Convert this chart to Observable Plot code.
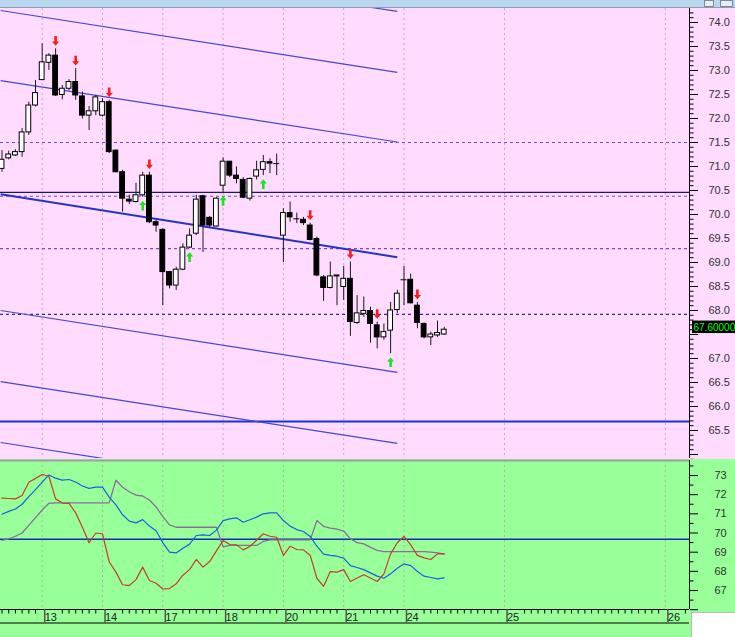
<!DOCTYPE html>
<html><head><meta charset="utf-8">
<script src="https://cdn.jsdelivr.net/npm/d3@7"></script>
<script src="https://cdn.jsdelivr.net/npm/@observablehq/plot@0.6"></script>
<style>
html,body{margin:0;padding:0;width:735px;height:637px;overflow:hidden;background:#99ff99;position:relative;}
#strip{height:7px;background:#b9d6ef;border-bottom:1px solid #8f9fb0;position:relative;}
.ico{position:absolute;top:0;height:5px;border:1px solid #7a8a9a;background:#e8eef4;}
#upper svg,#lower svg{display:block;}
#corner{position:absolute;left:691px;top:612px;width:44px;height:25px;background:#fff;border-top:1px solid #b8b8b8;border-left:1px solid #b8b8b8;box-sizing:border-box;}
</style></head><body>
<div id="strip"><div class="ico" style="left:704px;width:8px"></div><div class="ico" style="left:720px;width:11px"></div></div>
<div id="upper"></div>
<div id="lower"></div>
<div id="corner"></div>
<script>
// ---------- data ----------
const FIRST_BAR = -6; // bar index of first candle (bar 0 = first bar of day "13")
const opens  = [70.95,71.17,71.23,71.30,71.71,72.27,72.80,73.16,73.31,72.49,72.62,72.76,72.46,72.06,72.15,72.06,72.34,71.33,70.88,70.31,70.26,70.40,70.81,69.84,69.68,68.80,68.52,68.85,69.31,69.60,70.38,69.93,69.75,70.60,71.10,70.81,70.72,70.33,70.79,70.93,71.09,71.06,69.56,70.03,69.91,69.89,69.77,69.49,68.69,68.47,68.73,68.49,68.66,67.74,67.93,67.99,67.69,67.44,67.58,68.01,68.64,68.64,68.10,67.72,67.44,67.48,67.50];
const highs  = [71.33,71.32,71.35,71.79,72.34,72.79,73.56,73.35,73.45,72.69,72.81,73.04,72.55,72.25,72.48,72.41,72.38,71.35,70.92,70.40,70.65,70.88,70.88,69.88,69.70,68.81,68.90,69.39,69.70,70.40,70.40,69.96,70.35,71.18,71.10,70.99,70.77,70.76,71.11,71.23,71.16,71.26,70.12,70.26,70.03,69.94,69.82,69.53,68.73,69.01,68.73,68.92,69.01,68.31,68.28,68.07,67.76,67.72,68.17,68.42,68.92,68.76,68.17,67.74,67.55,67.78,67.65];
const lows   = [70.88,71.14,71.21,71.19,71.65,72.24,72.79,73.00,72.46,72.39,72.58,72.38,71.99,71.75,72.06,72.03,71.27,70.87,70.05,70.21,70.24,70.36,69.81,69.63,68.10,68.45,68.42,68.83,69.29,69.56,69.21,69.73,69.74,70.46,70.77,70.64,70.33,70.28,70.72,70.81,70.85,70.81,69.00,69.84,69.81,69.77,69.45,68.70,68.19,68.45,68.10,68.21,67.46,67.71,67.86,67.32,67.20,67.38,67.10,67.94,68.10,68.14,67.62,67.41,67.27,67.44,67.48];
const closes = [71.14,71.25,71.30,71.71,72.27,72.53,73.17,73.31,72.48,72.62,72.76,72.48,72.06,72.15,72.44,72.34,71.30,70.88,70.33,70.27,70.40,70.81,69.84,69.77,68.80,68.52,68.85,69.31,69.56,70.31,69.77,69.77,70.33,71.10,70.81,70.74,70.35,70.74,70.92,71.09,71.06,71.06,70.03,69.94,69.91,69.82,69.47,68.73,68.47,68.71,68.71,68.66,67.76,67.94,67.99,67.72,67.44,67.55,68.00,68.35,68.64,68.15,67.74,67.44,67.50,67.53,67.60];

const sellBars = [2, 5, 10, 16, 40, 46, 50, 56];   // red down arrows
const buyBars  = [15, 22, 27, 33, 52];             // green up arrows

// trend channel: price at left edge bar and at end bar
const channelStartBar = -6.2, channelEndBar = 53;
const channelStart = [75.52, 74.25, 72.79, 70.42, 68.00, 66.52, 65.25];
const channelEnd   = [74.23, 72.96, 71.51, 69.11, 66.71, 65.23, 63.96];
const channelMain  = 3; // index of the thick middle line

const dottedLevels = [71.50, 70.38, 69.29, 67.92];
const solidLevelDark = 70.46;
const solidLevelBlue = 65.69;

// lower pane indicator series (one value per bar from FIRST_BAR)
const redVals  = [71.82,71.80,71.78,71.96,72.65,72.85,73.05,72.96,71.78,71.56,71.55,71.05,70.30,69.49,70.00,69.96,68.50,67.96,67.30,67.26,67.57,68.22,67.52,67.38,67.08,67.10,67.35,67.80,68.09,68.62,68.22,68.51,69.07,69.61,69.40,69.38,69.12,69.30,69.62,69.96,69.83,69.78,68.83,69.31,69.14,69.12,68.83,67.64,67.22,67.99,67.96,68.09,67.47,67.65,67.82,67.65,67.47,67.87,68.91,69.49,69.82,69.38,68.83,68.70,68.62,68.91,68.91];
const blueVals = [70.98,71.13,71.25,71.50,71.90,72.26,72.65,73.03,72.86,72.76,72.79,72.66,72.45,72.33,72.39,72.39,71.87,71.47,70.95,70.62,70.53,70.70,70.36,70.12,69.50,69.00,68.96,69.21,69.42,69.87,69.90,69.87,70.15,70.65,70.74,70.79,70.56,70.69,70.83,71.00,71.05,71.05,70.65,70.36,70.18,70.08,69.82,69.31,68.90,68.83,68.79,68.69,68.30,68.20,68.09,67.92,67.75,67.64,67.87,68.16,68.39,68.30,67.99,67.75,67.68,67.61,67.66];
const grayVals = [69.62,69.70,69.83,70.00,70.40,70.80,71.20,71.55,71.57,71.57,71.57,71.57,71.57,71.57,71.57,71.57,71.57,72.75,72.39,72.15,71.98,71.93,71.72,71.36,70.85,70.42,70.30,70.30,70.30,70.30,70.30,70.30,70.30,69.28,69.35,69.35,69.35,69.35,69.35,69.56,69.64,69.64,69.64,69.64,69.64,69.64,69.64,70.65,70.35,70.25,70.20,70.10,69.70,69.50,69.43,69.25,69.09,69.03,69.03,69.03,69.03,69.03,69.03,69.03,69.00,68.96,68.91];
const lowerLevel = 69.67;

// x axis (dates)
const dateLabels = ["13", "14", "17", "18", "20", "21", "24", "25", "26"];
const dateBars   = [0, 9, 18, 27, 36, 45, 54, 69, 93];

// y axis ticks
const upperMajorTicks = d3.range(65, 74.01, 0.5).map(v => +v.toFixed(1));
const upperMinorTicks = d3.range(64.9, 74.3, 0.1).map(v => +v.toFixed(1)).filter(v => Math.abs(v * 2 - Math.round(v * 2)) > 0.01);
const lowerMajorTicks = [66, 67, 68, 69, 70, 71, 72, 73];
const lowerMinorTicks = [66.5, 67.5, 68.5, 69.5, 70.5, 71.5, 72.5, 73.5];

// ---------- layout ----------
const W = 735, MR = 46;
const X_DOMAIN = [-6.224, 96.612];
const UPPER_Y = [64.9167, 74.2917];
const LOWER_Y = [66.010, 73.782];
const FONT = "'Liberation Sans', Arial, sans-serif";

const candles = opens.map((o, k) => ({i: FIRST_BAR + k, o, h: highs[k], l: lows[k], c: closes[k]}));
const byBar = new Map(candles.map(d => [d.i, d]));
const channel = channelStart.map((s, k) => ({k, s, e: channelEnd[k]}));
const lastClose = closes[closes.length - 1];

const arrowDown = {draw(ctx) { const w = 1.3, hw = 3.6, h = 4.8, hl = 4.2;
  ctx.moveTo(0, h); ctx.lineTo(hw, h - hl); ctx.lineTo(w, h - hl); ctx.lineTo(w, -h);
  ctx.lineTo(-w, -h); ctx.lineTo(-w, h - hl); ctx.lineTo(-hw, h - hl); ctx.closePath(); }};
const arrowUp = {draw(ctx) { const w = 1.3, hw = 3.6, h = 4.8, hl = 4.2;
  ctx.moveTo(0, -h); ctx.lineTo(hw, -h + hl); ctx.lineTo(w, -h + hl); ctx.lineTo(w, h);
  ctx.lineTo(-w, h); ctx.lineTo(-w, -h + hl); ctx.lineTo(-hw, -h + hl); ctx.closePath(); }};

const upper = Plot.plot({
  width: W, height: 451,
  marginLeft: 0, marginRight: MR, marginTop: 0, marginBottom: 1,
  style: {background: "#ffdcff", fontFamily: FONT, fontSize: "11px", color: "#000"},
  x: {domain: X_DOMAIN, axis: null},
  y: {domain: UPPER_Y},
  marks: [
    Plot.ruleX(dateBars, {stroke: "#c4a8c4", strokeDasharray: "2,3"}),
    Plot.ruleY(dottedLevels, {stroke: (d, k) => k === 3 ? "#2c2ca0" : "#6a4ce2", strokeWidth: 1.2, strokeDasharray: "3,3"}),
    Plot.ruleY([solidLevelDark], {stroke: "#16186e", strokeWidth: 1.3}),
    Plot.ruleY([solidLevelBlue], {stroke: "#1530e0", strokeWidth: 2}),
    Plot.link(channel, {x1: () => channelStartBar, x2: () => channelEndBar, y1: "s", y2: "e",
      stroke: d => d.k === channelMain ? "#2434c4" : "#4646d2",
      strokeWidth: d => d.k === channelMain ? 2 : 1.2, clip: true}),
    Plot.ruleX(candles, {x: "i", y1: "l", y2: "h", stroke: "#1a1a1a", strokeWidth: 1}),
    Plot.rect(candles, {x1: d => d.i - 0.36, x2: d => d.i + 0.36,
      y1: d => Math.min(d.o, d.c), y2: d => Math.max(d.o, d.c),
      fill: d => d.c >= d.o ? "#ffffff" : "#000000", stroke: "#000", strokeWidth: 1}),
    Plot.ruleY(candles.filter(d => Math.abs(d.o - d.c) < 0.015), {y: "c", x1: d => d.i - 0.45, x2: d => d.i + 0.45, stroke: "#000"}),
    Plot.dot(sellBars, {x: d => d, y: d => byBar.get(d).h, dy: -8, symbol: arrowDown, fill: "#ff1a1a", stroke: "none", r: 4}),
    Plot.dot(buyBars, {x: d => d, y: d => byBar.get(d).l, dy: 8.5, symbol: arrowUp, fill: "#19e619", stroke: "none", r: 4}),
    Plot.ruleX([X_DOMAIN[1]], {stroke: "#000"}),
    Plot.axisY(upperMinorTicks, {anchor: "right", tickSize: 3.5, fill: "none", stroke: "#000", label: null}),
    Plot.axisY(upperMajorTicks.filter(v => Math.abs(v - lastClose) > 0.2), {anchor: "right", tickSize: 8, tickPadding: 11, stroke: "#000", fill: "#333",
      tickFormat: d => d < 65.2 ? "" : d.toFixed(1), label: null}),
    Plot.axisY(upperMajorTicks.filter(v => Math.abs(v - lastClose) <= 0.2), {anchor: "right", tickSize: 8, fill: "none", stroke: "#000", label: null}),
    Plot.rect([lastClose], {y1: d => d - 0.08, y2: d => d + 0.18, insetLeft: 692, insetRight: -MR, fill: "#000"}),
    Plot.text([lastClose], {y: d => d, text: d => d.toFixed(5), frameAnchor: "right", textAnchor: "start", dx: 4, dy: -2,
      fill: "#00ff00", fontSize: 10})
  ]
});
document.getElementById("upper").append(upper);

const bandBottom = LOWER_Y[0] - 13.5 / 19.17;
const minorX = d3.range(-6, 97).filter(b => !dateBars.some(t => b === t || b === t + 1 || b === t + 2));

const lower = Plot.plot({
  width: W, height: 178,
  marginLeft: 0, marginRight: MR, marginTop: 1, marginBottom: 28,
  style: {background: "#99ff99", fontFamily: FONT, fontSize: "11px", color: "#000"},
  x: {domain: X_DOMAIN},
  y: {domain: LOWER_Y},
  marks: [
    Plot.ruleX(dateBars, {stroke: "#98bf98", strokeDasharray: "2,3"}),
    Plot.ruleY([lowerLevel], {stroke: "#1a2ab4", strokeWidth: 1.5}),
    Plot.line(grayVals, {x: (d, k) => FIRST_BAR + k, y: d => d, stroke: "#86709a", strokeWidth: 1.3}),
    Plot.line(blueVals, {x: (d, k) => FIRST_BAR + k, y: d => d, stroke: "#1464e0", strokeWidth: 1.2}),
    Plot.line(redVals, {x: (d, k) => FIRST_BAR + k, y: d => d, stroke: "#c83c28", strokeWidth: 1.2}),
    Plot.ruleY([LOWER_Y[1]], {stroke: "#a0a0a0", strokeWidth: 2}),
    Plot.ruleX([X_DOMAIN[1]], {stroke: "#000"}),
    Plot.axisY(lowerMinorTicks, {anchor: "right", tickSize: 3.5, fill: "none", stroke: "#000", label: null}),
    Plot.axisY(lowerMajorTicks, {anchor: "right", tickSize: 8, tickPadding: 17, stroke: "#000", fill: "#333",
      tickFormat: d => d === 66 ? "" : String(d), label: null}),
    Plot.ruleY([LOWER_Y[0], bandBottom], {stroke: "#000", strokeWidth: 1.2}),
    Plot.axisX(minorX, {anchor: "bottom", tickSize: 4.5, fill: "none", stroke: "#000", label: null}),
    Plot.axisX(dateBars, {anchor: "bottom", tickSize: 13.5, tickPadding: -6, stroke: "#555", strokeWidth: 1.5, fill: "#222",
      tickFormat: (d) => dateLabels[dateBars.indexOf(d)], textAnchor: "start", lineAnchor: "middle", dx: 2.5, label: null})
  ]
});
document.getElementById("lower").append(lower);
</script>
</body></html>
